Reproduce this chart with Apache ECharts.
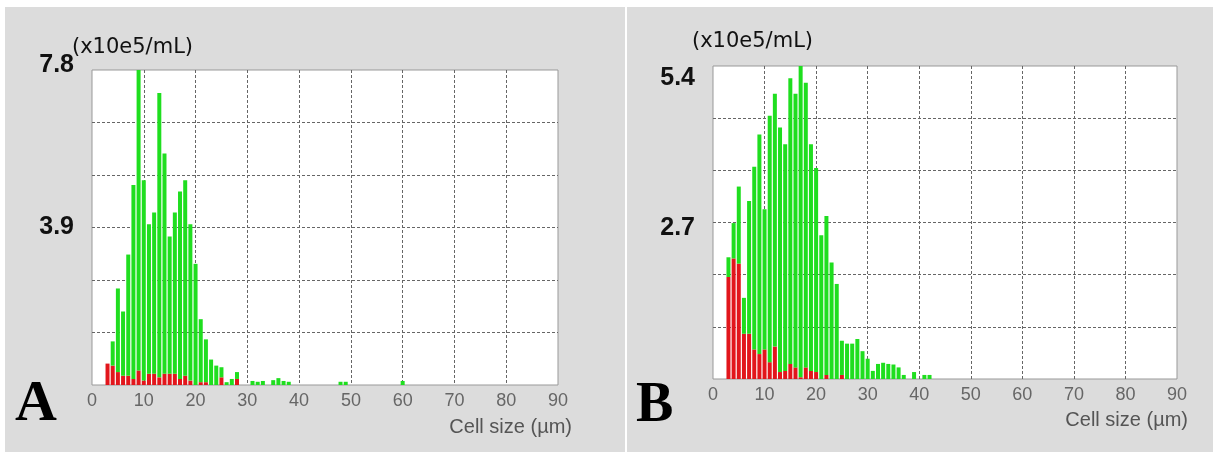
<!DOCTYPE html>
<html>
<head>
<meta charset="utf-8">
<script src="https://cdn.jsdelivr.net/npm/echarts@6/dist/echarts.min.js"></script>
<style>
  html, body { margin: 0; padding: 0; background: #ffffff; }
  #bgA { position: absolute; left: 5px; top: 7px; width: 620px; height: 445px; background: #dcdcdc; }
  #bgB { position: absolute; left: 627px; top: 7px; width: 586px; height: 445px; background: #dcdcdc; }
  #chart { position: absolute; left: 0; top: 0; width: 1213px; height: 452px; }
</style>
</head>
<body>
<div id="bgA"></div>
<div id="bgB"></div>
<div id="chart"></div>
<script>
// ---------- Data ----------
// Panel A: bin centres (µm), live (green) and dead (red) counts (x10e5/mL)
const binsA = [3,4,5,6,7,8,9,10,11,12,13,14,15,16,17,18,19,20,21,22,23,24,25,26,27,28,31,32,33,35,36,37,38,48,49,60];
const liveA = [0,0.60,2.07,1.59,3.00,4.80,7.44,4.96,3.70,3.99,7.04,5.45,3.40,3.99,4.64,4.84,3.87,3.00,1.56,1.06,0.63,0.48,0.25,0.07,0.15,0.17,0.10,0.08,0.10,0.12,0.17,0.10,0.08,0.08,0.08,0.10];
const deadA = [0.53,0.48,0.32,0.23,0.23,0.15,0.36,0.11,0.28,0.28,0.19,0.28,0.28,0.28,0.15,0.23,0.11,0,0.07,0.07,0,0,0.19,0,0,0.15,0,0,0,0,0,0,0,0,0,0];

// Panel B
const binsB = [3,4,5,6,7,8,9,10,11,12,13,14,15,16,17,18,19,20,21,22,23,24,25,26,27,28,29,30,31,32,33,34,35,36,37,39,41,42];
const liveB = [0.34,0.61,1.33,0.62,2.29,3.15,3.79,2.42,4.25,4.36,4.22,3.91,4.93,4.72,5.37,4.91,3.91,3.52,2.48,2.74,2.01,1.64,0.59,0.61,0.61,0.69,0.48,0.35,0.14,0.26,0.28,0.26,0.25,0.20,0.07,0.12,0.07,0.07];
const deadB = [1.76,2.08,1.99,0.78,0.78,0.51,0.43,0.51,0.29,0.56,0.12,0.14,0.26,0.20,0.03,0.20,0.14,0.12,0,0.07,0,0,0.07,0,0,0,0,0,0,0,0,0,0,0,0,0,0,0];

// Axis settings and tick labels
const xMin = 0, xMax = 90, xStep = 10;
const yMaxA = 7.8, yStepA = 1.3;
const yMaxB = 5.4, yStepB = 0.9;
const yLabelsA = ['3.9', '7.8'];
const yLabelsB = ['2.7', '5.4'];
const unitLabel = '(x10e5/mL)';
const xTitle = 'Cell size (µm)';
const panelLetters = ['A', 'B'];

// ---------- Chart ----------
const GREEN = '#1fde1f';
const RED = '#e2161c';

// category axis: one slot per µm from xMin to xMax
const sizeCats = [];
for (let s = xMin; s <= xMax; s++) sizeCats.push(String(s));

function fullSeries(bins, vals) {
  const out = sizeCats.map(() => null);
  bins.forEach((b, i) => { out[b - xMin] = vals[i] || null; });
  return out;
}

function yLabelFormatter(labels, maxVal) {
  return function (v) {
    const s = v.toFixed(1);
    if (labels.indexOf(s) < 0) return '';
    return Math.abs(v - maxVal) < 1e-6 ? '{top|' + s + '}' : s;
  };
}

const dash = { color: '#666', type: [3, 2], width: 1 };

function xAxisCfg(gridIndex) {
  return {
    type: 'category', gridIndex, data: sizeCats, boundaryGap: false,
    axisLine: { show: false }, axisTick: { show: false },
    splitLine: { show: true, interval: (i) => i % xStep === 0 && i > 0 && i < sizeCats.length - 1, lineStyle: dash },
    axisLabel: { interval: (i) => i % xStep === 0, color: '#666', fontSize: 18, margin: 7,
      fontFamily: 'Liberation Sans, Arial, sans-serif', showMinLabel: true, showMaxLabel: true }
  };
}

const yFont = 'Liberation Sans Narrow, Arial Narrow, Liberation Sans, sans-serif';
function yAxisCfg(gridIndex, maxVal, step, labels, topShift, pad) {
  return {
    type: 'value', gridIndex, min: 0, max: maxVal, interval: step,
    axisLine: { show: false }, axisTick: { show: false },
    splitLine: { show: true, lineStyle: dash, showMinLine: false, showMaxLine: false },
    axisLabel: {
      margin: 18, color: '#111', fontSize: 25, fontWeight: 'bold', fontFamily: yFont,
      padding: pad,
      formatter: yLabelFormatter(labels, maxVal),
      rich: { top: { fontSize: 25, fontWeight: 'bold', color: '#111', fontFamily: yFont, padding: topShift } }
    }
  };
}

function barSeries(name, idx, bins, vals, color) {
  return {
    name, type: 'bar', xAxisIndex: idx, yAxisIndex: idx, stack: 'panel' + idx,
    data: fullSeries(bins, vals), barWidth: 4, itemStyle: { color }, silent: true, animation: false
  };
}

const chart = echarts.init(document.getElementById('chart'), null, { renderer: 'canvas' });
chart.setOption({
  backgroundColor: 'transparent',
  animation: false,
  grid: [
    { left: 92, top: 70, width: 466, height: 315, show: true, backgroundColor: '#fff', borderColor: '#999', borderWidth: 1 },
    { left: 713, top: 66, width: 464, height: 313, show: true, backgroundColor: '#fff', borderColor: '#999', borderWidth: 1 }
  ],
  xAxis: [xAxisCfg(0), xAxisCfg(1)],
  yAxis: [
    yAxisCfg(0, yMaxA, yStepA, yLabelsA, [0, 0, 9, 0], 0),
    yAxisCfg(1, yMaxB, yStepB, yLabelsB, [12, 0, 0, 0], [12, 0, 0, 0])
  ],
  series: [
    barSeries('deadA', 0, binsA, deadA, RED),
    barSeries('liveA', 0, binsA, liveA, GREEN),
    barSeries('deadB', 1, binsB, deadB, RED),
    barSeries('liveB', 1, binsB, liveB, GREEN)
  ],
  graphic: [
    { type: 'text', left: 72, top: 37, style: { text: unitLabel, fontSize: 21, fontFamily: 'DejaVu Sans', fill: '#111' } },
    { type: 'text', left: 692, top: 31, style: { text: unitLabel, fontSize: 21, fontFamily: 'DejaVu Sans', fill: '#111' } },
    { type: 'text', right: 1213 - 572, top: 417, style: { text: xTitle, fontSize: 20, fontFamily: 'Liberation Sans, Arial, sans-serif', fill: '#555' } },
    { type: 'text', right: 1213 - 1188, top: 410, style: { text: xTitle, fontSize: 20, fontFamily: 'Liberation Sans, Arial, sans-serif', fill: '#555' } },
    { type: 'text', left: 15, top: 376, style: { text: panelLetters[0], fontSize: 58, fontWeight: 'bold', fontFamily: 'Liberation Serif, Times New Roman, serif', fill: '#000' } },
    { type: 'text', left: 636, top: 379, style: { text: panelLetters[1], fontSize: 56, fontWeight: 'bold', fontFamily: 'Liberation Serif, Times New Roman, serif', fill: '#000' } }
  ]
});
</script>
</body>
</html>
